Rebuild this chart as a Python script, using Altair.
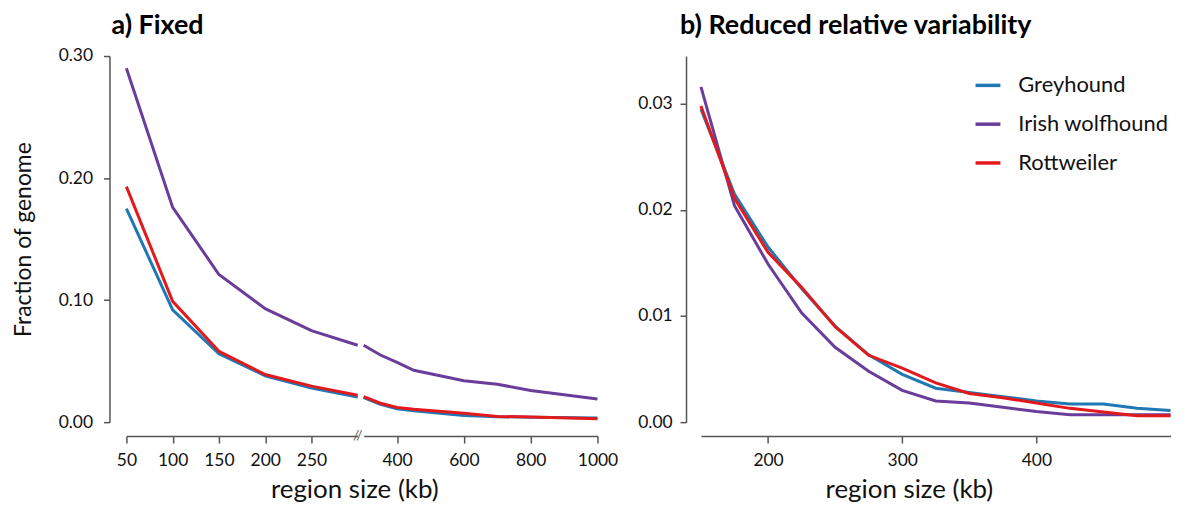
import altair as alt
import pandas as pd

series = ["Greyhound", "Irish wolfhound", "Rottweiler"]
colors = ["#1f78b4", "#6a3d9a", "#e31a1c"]

# Panel a, left segment of the broken x axis (50-300 kb)
a_left_kb = [50, 100, 150, 200, 250, 300]
a_left_grey = [0.175, 0.092, 0.056, 0.038, 0.028, 0.0205]
a_left_irish = [0.290, 0.176, 0.121, 0.093, 0.075, 0.063]
a_left_rott = [0.193, 0.099, 0.058, 0.039, 0.0295, 0.022]

# Panel a, right segment (300-1000 kb)
a_right_kb = [300, 350, 400, 450, 600, 700, 800, 1000]
a_right_grey = [0.020, 0.0145, 0.011, 0.0093, 0.0055, 0.0045, 0.0040, 0.0035]
a_right_irish = [0.063, 0.055, 0.049, 0.0425, 0.034, 0.031, 0.026, 0.019]
a_right_rott = [0.021, 0.0155, 0.012, 0.0105, 0.0072, 0.0047, 0.0042, 0.0028]

# Panel b
b_kb = [150, 175, 200, 225, 250, 275, 300, 325, 350, 375, 400, 425, 450, 475, 500]
b_grey = [0.0295, 0.0215, 0.0165, 0.0126, 0.00905, 0.00635, 0.0045, 0.0032,
          0.0028, 0.0024, 0.0020, 0.0017, 0.0017, 0.0013, 0.0011]
b_irish = [0.0316, 0.0204, 0.0149, 0.0103, 0.00705, 0.0048, 0.0030, 0.0020,
           0.0018, 0.0014, 0.0010, 0.0007, 0.0007, 0.0007, 0.0007]
b_rott = [0.0298, 0.0211, 0.0160, 0.0127, 0.0090, 0.0063, 0.0051, 0.0037,
          0.0027, 0.0023, 0.0018, 0.0013, 0.00095, 0.0006, 0.0006]

a_x_left_ticks = [50, 100, 150, 200, 250]
a_x_right_ticks = [400, 600, 800, 1000]
a_y_ticks = [0, 0.1, 0.2, 0.3]
b_x_ticks = [200, 300, 400]
b_y_ticks = [0, 0.01, 0.02, 0.03]

FONT = "Lato"
H = 368
TICK_FS = 17.5
XTITLE_FS = 26


def long(kb, g, i, r):
    rows = []
    for name, vals in zip(series, [g, i, r]):
        for k, v in zip(kb, vals):
            rows.append({"kb": k, "frac": v, "breed": name})
    return pd.DataFrame(rows)


def color_enc(legend=None):
    if legend is None:
        return alt.Color("breed:N", scale=alt.Scale(domain=series, range=colors), legend=None)
    return alt.Color("breed:N", scale=alt.Scale(domain=series, range=colors), legend=legend)


axis_style = dict(domainColor="#555555", tickColor="#555555", domainWidth=1.5, tickWidth=1.5,
                  labelColor="#111111", labelFont=FONT, labelFontSize=TICK_FS, grid=False,
                  titleFont=FONT, titleColor="#111111", titleFontWeight="normal")


def panel_title(text, dx, offset):
    return alt.TitleParams(text, anchor="start", frame="group", dx=dx, offset=offset, font=FONT,
                           fontSize=27, fontWeight="bold", color="#000000")


left_a = alt.Chart(long(a_left_kb, a_left_grey, a_left_irish, a_left_rott)).mark_line(strokeWidth=3).encode(
    x=alt.X("kb:Q", scale=alt.Scale(domain=[50, 300], nice=False, zero=False),
            axis=alt.Axis(values=a_x_left_ticks, format="d", labelFlush=False, offset=14, tickSize=7,
                          labelPadding=9, title="region size (kb)", titleFontSize=XTITLE_FS,
                          titleX=229, titleY=62, titleAlign="center", titleBaseline="alphabetic",
                          **axis_style)),
    y=alt.Y("frac:Q", scale=alt.Scale(domain=[0, 0.30], nice=False),
            axis=alt.Axis(values=a_y_ticks, format=".2f", offset=17, tickSize=6, labelPadding=11,
                          labelFlush=False, title="Fraction of genome", titleFontSize=23,
                          titlePadding=23, **axis_style)),
    color=color_enc(),
).properties(width=232.5, height=H, title=panel_title("a) Fixed", -15, 7))

right_lines = alt.Chart(long(a_right_kb, a_right_grey, a_right_irish, a_right_rott)).mark_line(strokeWidth=3).encode(
    x=alt.X("kb:Q", scale=alt.Scale(domain=[300, 1000], nice=False, zero=False),
            axis=alt.Axis(values=a_x_right_ticks, format="d", labelFlush=False, offset=14, tickSize=7,
                          labelPadding=9, title=None, **axis_style)),
    y=alt.Y("frac:Q", scale=alt.Scale(domain=[0, 0.30], nice=False), axis=None),
    color=color_enc(),
)
break_mark = alt.Chart(pd.DataFrame({"t": ["//"]})).mark_text(
    font=FONT, fontSize=14, color="#555555", baseline="middle", align="center"
).encode(x=alt.value(-6), y=alt.value(H + 14), text="t:N")

right_a = alt.layer(right_lines, break_mark).properties(width=235, height=H)

# empty spacer between the panels
spacer = alt.Chart(pd.DataFrame({"t": [""]})).mark_text().encode(
    text="t:N").properties(width=93, height=H)

panel_b = alt.Chart(long(b_kb, b_grey, b_irish, b_rott)).mark_line(strokeWidth=3).encode(
    x=alt.X("kb:Q", scale=alt.Scale(domain=[150, 500], nice=False, zero=False),
            axis=alt.Axis(values=b_x_ticks, format="d", labelFlush=False, offset=14, tickSize=7,
                          labelPadding=9, title="region size (kb)", titleFontSize=XTITLE_FS,
                          titleX=209, titleY=62, titleAlign="center", titleBaseline="alphabetic",
                          **axis_style)),
    y=alt.Y("frac:Q", scale=alt.Scale(domain=[0, 0.0345], nice=False),
            axis=alt.Axis(values=b_y_ticks, format=".2f", offset=15, tickSize=6, labelPadding=8,
                          labelFlush=False, title=None, **axis_style)),
    color=color_enc(alt.Legend(orient="none", legendX=274, legendY=15, title=None,
                               symbolType="stroke", symbolSize=625, symbolStrokeWidth=3.5,
                               labelFont=FONT, labelFontSize=22, labelColor="#111111",
                               labelOffset=16, rowPadding=13, padding=0)),
).properties(width=472, height=H, title=panel_title("b) Reduced relative variability", -21, 16))

chart = alt.hconcat(left_a, right_a, spacer, panel_b, spacing=5.5, bounds="flush").resolve_scale(
    x="independent", y="independent", color="independent"
).properties(
    padding={"left": 4, "top": 3, "right": 0, "bottom": 0}, background="white"
).configure_view(stroke=None)

chart.save("out.html", embed_options={"renderer": "svg", "actions": False})
